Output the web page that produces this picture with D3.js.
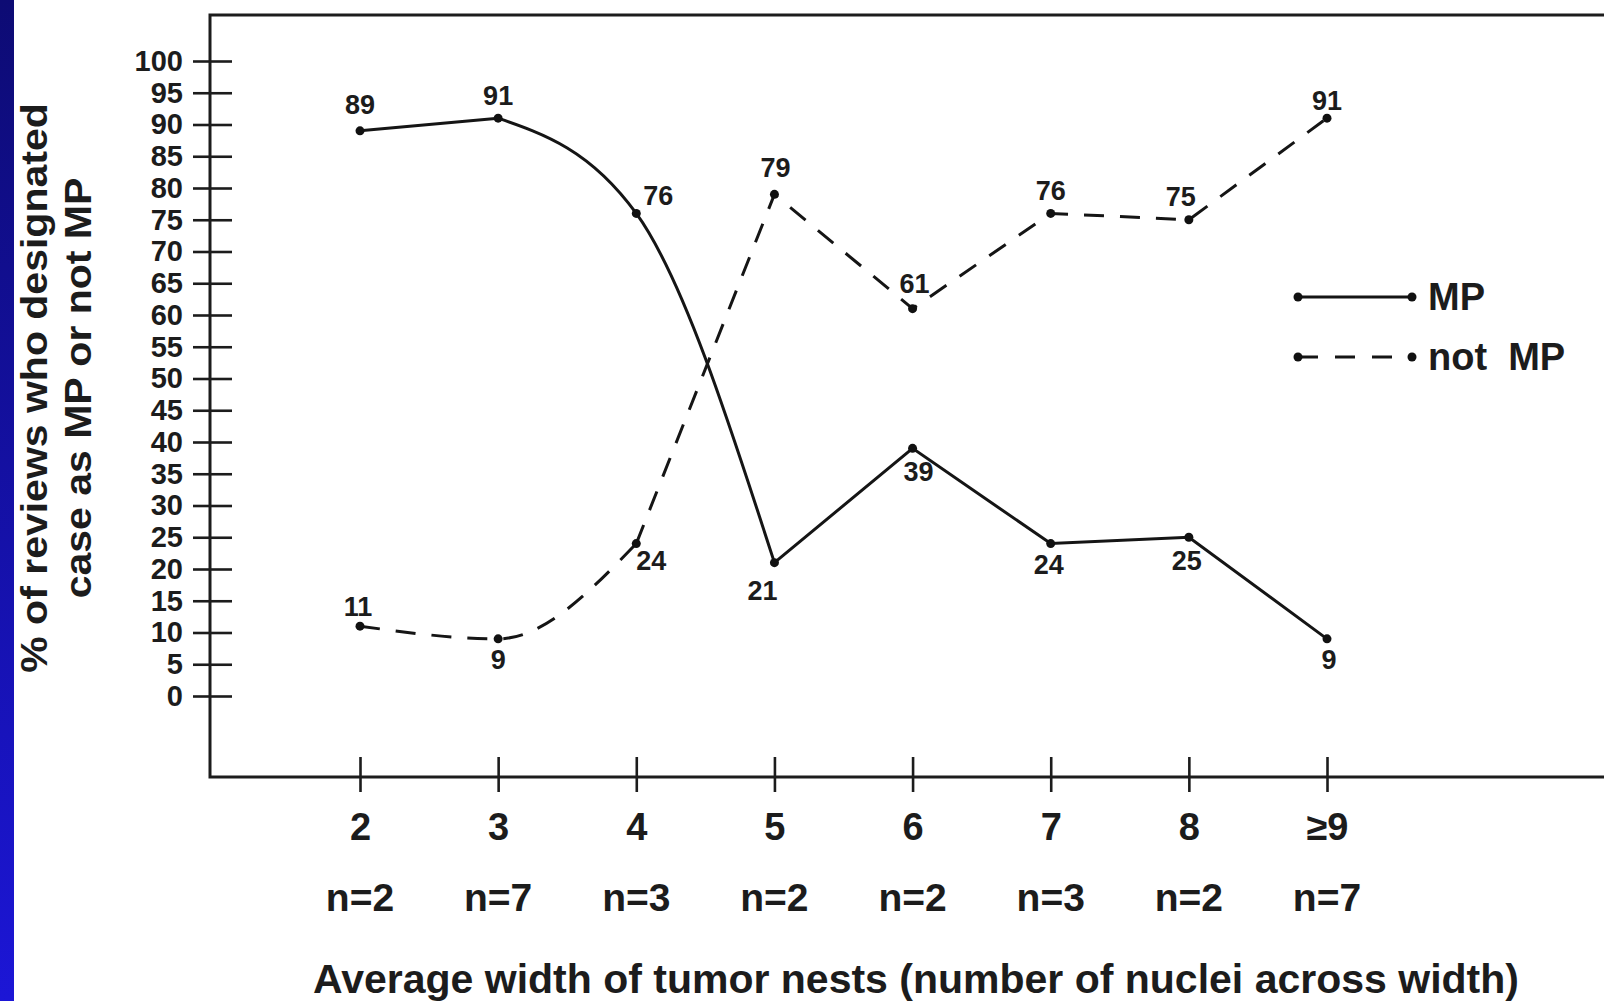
<!DOCTYPE html>
<html>
<head>
<meta charset="utf-8">
<script src="https://cdn.jsdelivr.net/npm/d3@7"></script>
<style>
  html, body { margin: 0; padding: 0; background: #fff; }
  svg { display: block; }
  text { font-family: "Liberation Sans", Arial, sans-serif; font-weight: bold; fill: #1c1c1c; }
</style>
</head>
<body>
<svg id="chart" width="1604" height="1001"></svg>
<script>
// data
const categories = ["2", "3", "4", "5", "6", "7", "8", "≥9"];
const caseCounts = ["n=2", "n=7", "n=3", "n=2", "n=2", "n=3", "n=2", "n=7"];
const mpValues = [89, 91, 76, 21, 39, 24, 25, 9];
const notMpValues = [11, 9, 24, 79, 61, 76, 75, 91];
const yTicks = d3.range(0, 101, 5);

const yTitle = ["% of reviews who designated", "case as MP or not MP"];
const xTitle = "Average width of tumor nests (number of nuclei across width)";

// where each value label sits relative to its point [dx, dy]
const mpLabelOffset = [[0, -26], [0, -22], [22, -17], [-12, 28], [6, 24], [-2, 21], [-2, 24], [2, 21]];
const notMpLabelOffset = [[-2, -19], [0, 21], [15, 17], [1, -26], [2, -25], [0, -22], [-8, -23], [0, -17]];

const svg = d3.select("#chart");

// blue slide edge on the left
const defs = svg.append("defs");
const grad = defs.append("linearGradient").attr("id", "edge").attr("x1", 0).attr("y1", 0).attr("x2", 0).attr("y2", 1);
grad.append("stop").attr("offset", "0%").attr("stop-color", "#0d0b74");
grad.append("stop").attr("offset", "100%").attr("stop-color", "#1c16d6");
svg.append("rect").attr("x", 0).attr("y", 0).attr("width", 14).attr("height", 1001).attr("fill", "url(#edge)");

const x = d3.scalePoint().domain(categories).range([360, 1327]);
const y = d3.scaleLinear().domain([0, 100]).range([696, 61]);

const frameLeft = 210, frameTop = 15, frameBottom = 777, frameRight = 1620;

// frame (right side runs off the picture)
svg.append("path")
    .attr("d", `M${frameRight},${frameTop}H${frameLeft}V${frameBottom}H${frameRight}`)
    .attr("fill", "none").attr("stroke", "#1c1c1c").attr("stroke-width", 3);

// y axis: ticks cross the frame line
const yLeft = svg.append("g").attr("transform", `translate(${frameLeft},0)`)
    .call(d3.axisLeft(y).tickValues(yTicks).tickSize(17).tickPadding(10));
yLeft.select(".domain").remove();
yLeft.selectAll("line").attr("stroke", "#1c1c1c").attr("stroke-width", 2.6);
yLeft.selectAll("text").style("font-size", "29px").attr("fill", "#1c1c1c");

const yRight = svg.append("g").attr("transform", `translate(${frameLeft},0)`)
    .call(d3.axisRight(y).tickValues(yTicks).tickSize(22).tickFormat(""));
yRight.select(".domain").remove();
yRight.selectAll("line").attr("stroke", "#1c1c1c").attr("stroke-width", 2.6);

// x axis
const xBottom = svg.append("g").attr("transform", `translate(0,${frameBottom})`)
    .call(d3.axisBottom(x).tickSize(15).tickPadding(21));
xBottom.select(".domain").remove();
xBottom.selectAll("line").attr("stroke", "#1c1c1c").attr("stroke-width", 2.6);
xBottom.selectAll("text").style("font-size", "38px").attr("fill", "#1c1c1c");

const xTop = svg.append("g").attr("transform", `translate(0,${frameBottom})`)
    .call(d3.axisTop(x).tickSize(20).tickFormat(""));
xTop.select(".domain").remove();
xTop.selectAll("line").attr("stroke", "#1c1c1c").attr("stroke-width", 2.6);

svg.append("g").selectAll("text")
    .data(caseCounts)
    .join("text")
    .attr("x", (d, i) => x(categories[i]))
    .attr("y", 911)
    .attr("text-anchor", "middle")
    .style("font-size", "39px")
    .text(d => d);

// axis titles
svg.append("text")
    .attr("x", 916).attr("y", 993)
    .attr("text-anchor", "middle")
    .style("font-size", "41px")
    .text(xTitle);

yTitle.forEach((t, i) => {
    svg.append("text")
        .attr("transform", `translate(${47 + i * 44},388) rotate(-90) scale(1,0.88)`)
        .attr("text-anchor", "middle")
        .style("font-size", "41px")
        .text(t);
});

// series; some stretches of the original are drawn as smooth curves
const series = [
    { values: mpValues, dash: null, offsets: mpLabelOffset,
      pieces: [[0, 1, d3.curveLinear], [1, 3, d3.curveMonotoneX], [3, 7, d3.curveLinear]] },
    { values: notMpValues, dash: "20,16", offsets: notMpLabelOffset,
      pieces: [[0, 2, d3.curveMonotoneX], [2, 7, d3.curveLinear]] }
];

series.forEach(s => {
    const pts = s.values.map((v, i) => [x(categories[i]), y(v)]);
    const g = svg.append("g");
    s.pieces.forEach(([a, b, curve]) => {
        g.append("path")
            .attr("d", d3.line().curve(curve)(pts.slice(a, b + 1)))
            .attr("fill", "none")
            .attr("stroke", "#151515")
            .attr("stroke-width", 3)
            .attr("stroke-dasharray", s.dash);
    });
    g.selectAll("circle")
        .data(pts)
        .join("circle")
        .attr("cx", d => d[0]).attr("cy", d => d[1])
        .attr("r", 4.5).attr("fill", "#111");
    g.selectAll("text.val")
        .data(s.values)
        .join("text")
        .attr("class", "val")
        .attr("x", (d, i) => pts[i][0] + s.offsets[i][0])
        .attr("y", (d, i) => pts[i][1] + s.offsets[i][1])
        .attr("text-anchor", "middle")
        .attr("dominant-baseline", "central")
        .style("font-size", "27px")
        .text(d => d);
});

// legend
const legend = [
    { name: "MP", dash: null, y: 297 },
    { name: "not  MP", dash: "20,17", y: 357 }
];
const lg = svg.append("g");
legend.forEach(l => {
    lg.append("line")
        .attr("x1", 1298).attr("x2", 1412).attr("y1", l.y).attr("y2", l.y)
        .attr("stroke", "#151515").attr("stroke-width", 3)
        .attr("stroke-dasharray", l.dash);
    [1298, 1412].forEach(cx => lg.append("circle").attr("cx", cx).attr("cy", l.y).attr("r", 4.5).attr("fill", "#111"));
    lg.append("text")
        .attr("x", 1428).attr("y", l.y + 13)
        .style("font-size", "38px")
        .style("white-space", "pre")
        .attr("xml:space", "preserve")
        .text(l.name);
});
</script>
</body>
</html>
